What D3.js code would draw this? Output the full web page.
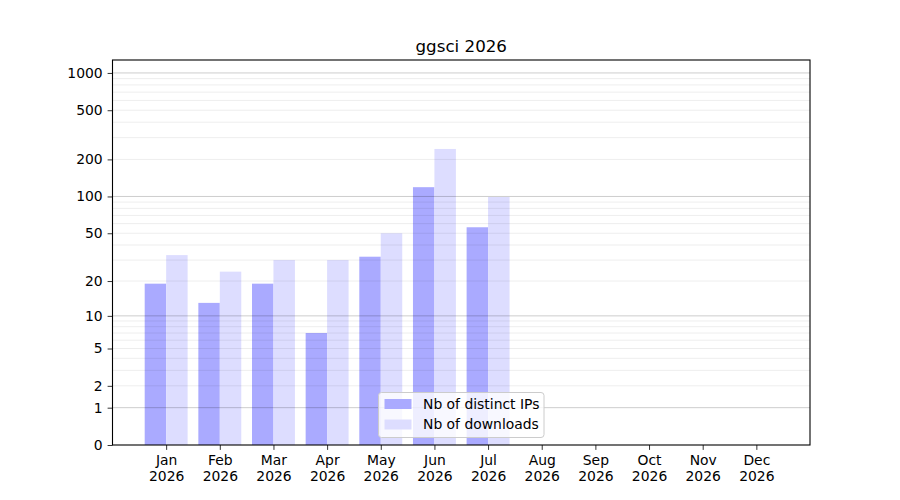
<!DOCTYPE html>
<html lang="en">
<head>
    <meta charset="UTF-8">
    <title>ggsci 2026</title>
    <script src="https://cdnjs.cloudflare.com/ajax/libs/d3/7.8.5/d3.min.js"></script>
    <style>
        * { margin: 0; padding: 0; box-sizing: border-box; }
        body { background-color: #ffffff; }
        svg { display: block; font-family: 'DejaVu Sans', sans-serif; }
    </style>
</head>
<body>
    <div id="chart"></div>

    <script>
        // Data
        const months = ['Jan', 'Feb', 'Mar', 'Apr', 'May', 'Jun', 'Jul', 'Aug', 'Sep', 'Oct', 'Nov', 'Dec'];
        const year = '2026';
        const distinctIPs = [19, 13, 19, 7, 32, 119, 56, null, null, null, null, null];
        const downloads = [33, 24, 30, 30, 50, 243, 99, null, null, null, null, null];
        const yTicks = [0, 1, 2, 5, 10, 20, 50, 100, 200, 500, 1000];
        const majorGrid = [1, 10, 100, 1000];
        const seriesNames = ['Nb of distinct IPs', 'Nb of downloads'];

        const colors = ['#aaaaff', '#ddddff'];

        const W = 900, H = 500;
        const margin = {top: 60, right: 90, bottom: 55, left: 112.5};

        const svg = d3.select('#chart')
            .append('svg')
            .attr('width', W)
            .attr('height', H);

        const x = d3.scaleLinear()
            .domain([-1, 12])
            .range([margin.left, W - margin.right]);

        // log(1 + v) scale
        const y = d3.scaleSymlog()
            .constant(1)
            .domain([0, 1272])
            .range([H - margin.bottom, margin.top]);

        const barW = 0.4;

        // Bars
        const bars = svg.append('g');
        [distinctIPs, downloads].forEach((series, s) => {
            bars.selectAll(null)
                .data(series.map((v, i) => ({v, i})).filter(d => d.v != null))
                .enter()
                .append('rect')
                .attr('x', d => s === 0 ? x(d.i - barW) : x(d.i))
                .attr('width', x(barW) - x(0))
                .attr('y', d => y(d.v))
                .attr('height', d => y(0) - y(d.v))
                .attr('fill', colors[s]);
        });

        // Grid (drawn over the bars, semi transparent)
        const minorGrid = [];
        [1, 10, 100].forEach(dec => {
            for (let k = 2; k <= 9; k++) minorGrid.push(k * dec);
        });

        const grid = svg.append('g');
        grid.selectAll('.minor')
            .data(minorGrid)
            .enter()
            .append('line')
            .attr('x1', margin.left)
            .attr('x2', W - margin.right)
            .attr('y1', d => y(d))
            .attr('y2', d => y(d))
            .attr('stroke', 'rgba(0,0,0,0.07)')
            .attr('stroke-width', 1);

        grid.selectAll('.major')
            .data(majorGrid)
            .enter()
            .append('line')
            .attr('x1', margin.left)
            .attr('x2', W - margin.right)
            .attr('y1', d => y(d))
            .attr('y2', d => y(d))
            .attr('stroke', 'rgba(0,0,0,0.2)')
            .attr('stroke-width', 1);

        // Axes
        const yAxis = svg.append('g')
            .attr('transform', `translate(${margin.left},0)`)
            .call(d3.axisLeft(y)
                .tickValues(yTicks)
                .tickFormat(d3.format('d'))
                .tickSize(4.9)
                .tickPadding(4.9));

        const xAxis = svg.append('g')
            .attr('transform', `translate(0,${H - margin.bottom})`)
            .call(d3.axisBottom(x)
                .tickValues(d3.range(months.length))
                .tickFormat(i => months[i])
                .tickSize(4.9)
                .tickPadding(4.9));

        [yAxis, xAxis].forEach(ax => {
            ax.select('.domain').remove();
            ax.selectAll('.tick line').attr('stroke', '#000').attr('stroke-width', 0.8);
            ax.selectAll('.tick text')
                .attr('fill', '#000')
                .style('font-family', "'DejaVu Sans', sans-serif")
                .style('font-size', '13.9px');
        });

        // two-line month labels
        xAxis.selectAll('.tick text')
            .each(function(i) {
                const t = d3.select(this);
                t.text(null);
                t.append('tspan').attr('x', 0).attr('dy', '0.71em').text(months[i]);
                t.append('tspan').attr('x', 0).attr('dy', '1.15em').text(year);
            })
            .attr('dy', null);

        // Frame
        svg.append('rect')
            .attr('x', margin.left)
            .attr('y', margin.top)
            .attr('width', W - margin.right - margin.left)
            .attr('height', H - margin.bottom - margin.top)
            .attr('fill', 'none')
            .attr('stroke', '#000')
            .attr('stroke-width', 1.1);

        // Title
        svg.append('text')
            .attr('x', (margin.left + W - margin.right) / 2)
            .attr('y', margin.top - 8.3)
            .attr('text-anchor', 'middle')
            .style('font-size', '16.7px')
            .attr('fill', '#000')
            .text('ggsci ' + year);

        // Legend
        const lg = svg.append('g').attr('transform', 'translate(378.5,392.5)');
        lg.append('rect')
            .attr('width', 165.5)
            .attr('height', 45)
            .attr('rx', 3)
            .attr('fill', 'rgba(255,255,255,0.8)')
            .attr('stroke', '#cccccc')
            .attr('stroke-width', 1);

        seriesNames.forEach((name, i) => {
            lg.append('rect')
                .attr('x', 6)
                .attr('y', 6.5 + i * 20.5)
                .attr('width', 27)
                .attr('height', 10)
                .attr('fill', colors[i]);
            lg.append('text')
                .attr('x', 44.5)
                .attr('y', 11.5 + i * 20.5)
                .attr('dy', '0.35em')
                .style('font-size', '13.9px')
                .attr('fill', '#000')
                .text(name);
        });
    </script>
</body>
</html>
